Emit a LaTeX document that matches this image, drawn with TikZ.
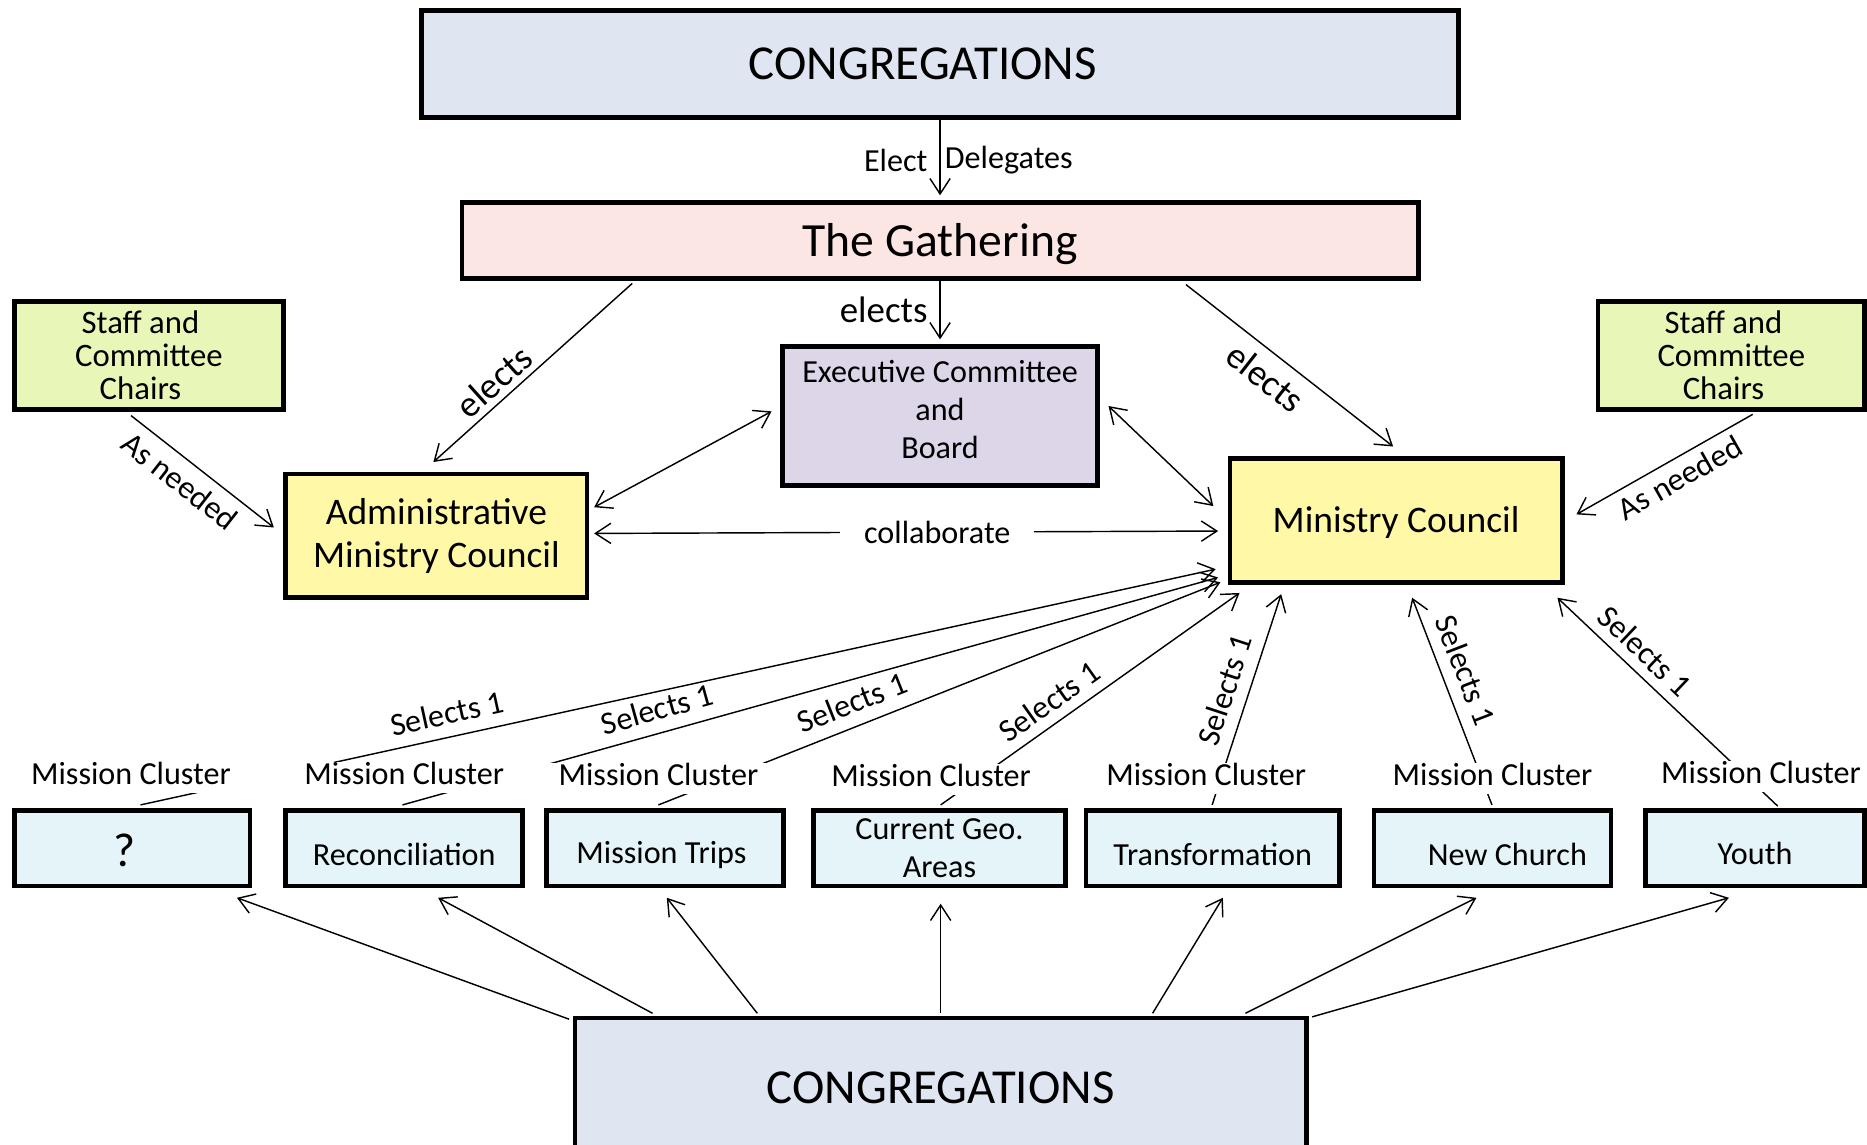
\documentclass[tikz,border=0pt]{standalone}
\usepackage{fontspec}
\setmainfont{Carlito}
\usetikzlibrary{calc,arrows.meta,positioning}
\definecolor{congblue}{HTML}{DFE6F2}
\definecolor{gathpink}{HTML}{FBE6E3}
\definecolor{staffgreen}{HTML}{E8F7B8}
\definecolor{execlilac}{HTML}{DDD6E9}
\definecolor{councilyellow}{HTML}{FFF9A7}
\definecolor{clustercyan}{HTML}{E4F4F8}
\newcommand{\shifttext}[2]{\raisebox{#1}[\height][\depth]{#2}}

\begin{document}
\begin{tikzpicture}[x=1pt,y=-1pt,
box/.style={draw,line width=4pt,align=center,inner sep=0pt},
cluster/.style={box,fill=clustercyan,minimum height=63pt,font=\fontsize{27}{32}\selectfont},
arr/.style={line width=1.2pt,-{Straight Barb[length=13pt,width=17pt]}},
biarr/.style={line width=1.2pt,{Straight Barb[length=13pt,width=17pt]}-{Straight Barb[length=13pt,width=17pt]}},
lbl/.style={font=\fontsize{27}{32}\selectfont,inner sep=2pt},
biglbl/.style={lbl,font=\fontsize{31}{36}\selectfont},
mclabel/.style={fill=white,font=\fontsize{27}{32}\selectfont,text height=19pt,text depth=7pt,inner sep=0pt,minimum width=230pt}]
\useasboundingbox (0,0) rectangle (1568,961);
\clip (0,0) rectangle (1568,961);
\node[box,fill=congblue,minimum width=871pt,minimum height=90pt,font=\fontsize{41}{48}\selectfont] (congtop) at (789.5,54) {CONGREGATIONS\hspace*{29pt}};
\node[box,fill=gathpink,minimum width=803pt,minimum height=64pt,font=\fontsize{40}{48}\selectfont] (gathering) at (789.5,202) {\shifttext{-3pt}{The Gathering}};
\node[box,fill=staffgreen,minimum width=226pt,minimum height=91pt,font=\fontsize{27.5}{27.5}\selectfont] (staffleft) at (125,298.5) {Staff and\hspace*{14pt}\\Committee\hspace*{14pt}\\Chairs\hspace*{14pt}};
\node[box,fill=staffgreen,minimum width=224pt,minimum height=91pt,font=\fontsize{27.5}{27.5}\selectfont] (staffright) at (1454,298.5) {Staff and\hspace*{13pt}\\Committee\hspace*{13pt}\\Chairs\hspace*{13pt}};
\node[box,fill=execlilac,minimum width=265pt,minimum height=117pt,font=\fontsize{27}{32}\selectfont] (exec) at (789.5,349.5) {\shifttext{3pt}{\begin{tabular}{@{}c@{}}Executive Committee\\and\\Board\end{tabular}}};
\node[box,fill=councilyellow,minimum width=253pt,minimum height=104pt,font=\fontsize{31.5}{36}\selectfont] (admin) at (366.5,450) {Administrative\\Ministry Council};
\node[box,fill=councilyellow,minimum width=279pt,minimum height=104pt,font=\fontsize{31.5}{36}\selectfont] (council) at (1172.5,437) {\shifttext{-2pt}{Ministry Council}};
\node[cluster,minimum width=198pt,font=\fontsize{40}{48}\selectfont] (c1) at (111,712.5) {\shifttext{-2pt}{?}\hspace*{12pt}};
\node[cluster,minimum width=199pt] (c2) at (339.5,712.5) {\shifttext{-5pt}{Reconciliation}};
\node[cluster,minimum width=199pt] (c3) at (558.5,712.5) {\shifttext{-6pt}{Mission Trips}\hspace*{6pt}};
\node[cluster,minimum width=212pt] (c4) at (789,712.5) {Current Geo.\\Areas};
\node[cluster,minimum width=213pt] (c5) at (1018.5,712.5) {\shifttext{-5pt}{Transformation}};
\node[cluster,minimum width=199pt] (c6) at (1253.5,712.5) {\hspace*{25pt}\shifttext{-5pt}{New Church}};
\node[cluster,minimum width=184pt] (c7) at (1474,712.5) {\shifttext{-4pt}{Youth}};
\node[box,fill=congblue,minimum width=614pt,minimum height=118pt,font=\fontsize{41}{48}\selectfont] (congbot) at (790,914) {CONGREGATIONS};

\draw[arr,shorten >=4pt] (congtop.south) -- node[lbl,left=8pt]{Elect} node[lbl,right=1.5pt]{Delegates} (gathering.north);
\draw[arr] (gathering.south) -- node[biglbl,left=8pt]{elects} ($(exec.north)+(0,-4)$);
\draw[arr] ($(gathering.south west)+(145,2)$) -- node[biglbl,pos=0.63,sloped,above=3pt]{elects} ($(admin.north)+(-2.5,-8)$);
\draw[arr] ($(gathering.south east)+(-197,3)$) -- node[biglbl,pos=0.456,sloped,below=7pt]{elects} ($(council.north)+(-2.5,-8)$);
\draw[arr] ($(staffleft.south)+(-15,3)$) -- node[lbl,pos=0.435,sloped,below=6pt]{As needed} ($(admin.west)+(-8,-7)$);
\draw[arr] ($(staffright.south)+(18,2)$) -- node[lbl,pos=0.467,sloped,below=4pt]{As needed} ($(council.east)+(10,-5)$);
\draw[biarr] ($(exec.west)+(-7,-4)$) -- ($(admin.north east)+(4,30)$);
\draw[biarr] ($(exec.east)+(7,-8.5)$) -- ($(council.north west)+(-12,42)$);
\draw[biarr] ($(admin.east)+(4,-2)$) -- node[lbl,pos=0.55,fill=white,inner xsep=20pt]{collaborate} ($(council.west)+(-8,9)$);

\draw[arr] ($(c1.north)+(7,-3)$) -- node[lbl,pos=0.29,sloped,above=8pt]{Selects 1} ($(council.south west)+(-10,-13)$);
\draw[arr] ($(c2.north)+(-1.5,-3)$) -- node[lbl,pos=0.32,sloped,above=8pt]{Selects 1} ($(council.south west)+(-8,-6)$);
\draw[arr] ($(c3.north)+(-5.5,-3)$) -- node[lbl,pos=0.36,sloped,above=8pt]{Selects 1} ($(council.south west)+(-6,-2)$);
\draw[arr] ($(c4.north)+(1,-3)$) -- node[lbl,pos=0.405,sloped,above=6pt]{Selects 1} ($(council.south west)+(10,7)$);
\draw[arr] ($(c5.north)+(-0.5,-3)$) -- node[lbl,pos=0.51,sloped,above=8pt]{Selects 1} ($(council.south west)+(45,8)$);
\draw[arr] ($(c6.north)+(-0.5,-3)$) -- node[lbl,pos=0.61,sloped,above=8pt]{Selects 1} ($(council.south west)+(155,11)$);
\draw[arr] ($(c7.north)+(19,-2)$) -- node[lbl,pos=0.67,sloped,above=6pt]{Selects 1} ($(council.south west)+(277,11)$);

\node[mclabel,above=13pt of c1,xshift=-1pt] (l1) {Mission Cluster};
\node[mclabel,above=13pt of c2] (l2) {Mission Cluster};
\node[mclabel,above=12pt of c3,xshift=-5.5pt] (l3) {Mission Cluster};
\node[mclabel,above=11pt of c4,xshift=-7pt] (l4) {Mission Cluster};
\node[mclabel,above=12pt of c5,xshift=-5.5pt] (l5) {Mission Cluster};
\node[mclabel,above=12pt of c6] (l6) {Mission Cluster};
\node[mclabel,above=14pt of c7,xshift=5pt] (l7) {Mission Cluster};

\draw[arr] ($(congbot.north west)+(-3,3)$) -- ($(c1.south east)+(-13,8)$);
\draw[arr] ($(congbot.north west)+(67,-2)$) -- ($(c2.south)+(28.5,8)$);
\draw[arr] ($(congbot.north west)+(155,-2)$) -- ($(c3.south)+(1.5,8)$);
\draw[arr] ($(congbot.north)+(0,-2)$) -- ($(c4.south)+(1,13)$);
\draw[arr] ($(congbot.north east)+(-131,-2)$) -- ($(c5.south)+(8.5,8)$);
\draw[arr] ($(congbot.north east)+(-53,-2)$) -- ($(c6.south)+(-13.5,8)$);
\draw[arr] ($(congbot.north east)+(3,1)$) -- ($(c7.south)+(-22,8)$);
\end{tikzpicture}
\end{document}
